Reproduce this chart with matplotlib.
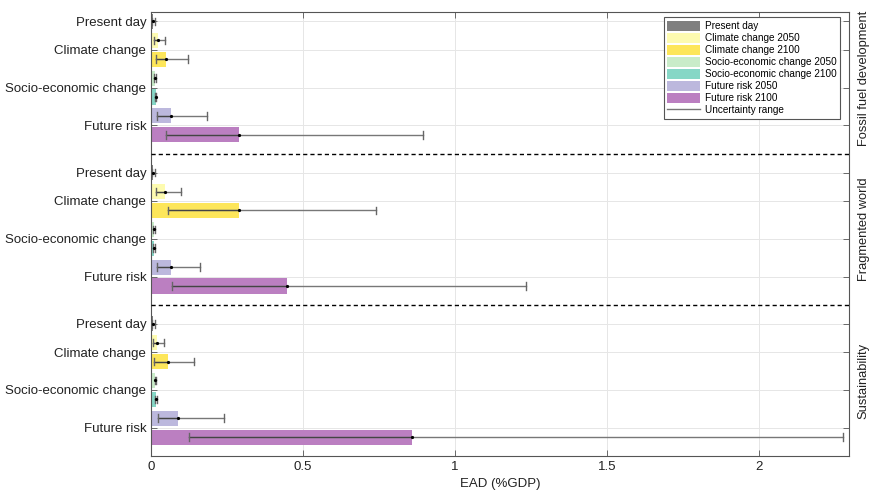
import matplotlib
matplotlib.use("Agg")
import matplotlib.pyplot as plt
from matplotlib.patches import Patch
from matplotlib.lines import Line2D

plt.rcParams['font.family'] = ['Liberation Sans', 'DejaVu Sans']

scenarios = ["Fossil fuel development", "Fragmented world", "Sustainability"]
series = ["Present day", "Climate change 2050", "Climate change 2100",
          "Socio-economic change 2050", "Socio-economic change 2100",
          "Future risk 2050", "Future risk 2100"]
colors = ["#7f7f7f", "#fdfbb0", "#fde65a", "#c9ecc9", "#86d7c6", "#bcb8dd", "#bb7fc1"]
categories = ["Present day", "Climate change", "Socio-economic change", "Future risk"]

# values per scenario, in series order
fossil_vals = [0.005, 0.022, 0.050, 0.012, 0.015, 0.065, 0.290]
fossil_low = [0.002, 0.010, 0.015, 0.011, 0.013, 0.020, 0.050]
fossil_high = [0.012, 0.046, 0.120, 0.015, 0.017, 0.185, 0.895]

fragmented_vals = [0.005, 0.045, 0.290, 0.010, 0.010, 0.065, 0.448]
fragmented_low = [0.002, 0.015, 0.055, 0.008, 0.008, 0.018, 0.068]
fragmented_high = [0.012, 0.097, 0.740, 0.012, 0.012, 0.160, 1.235]

sustain_vals = [0.005, 0.020, 0.055, 0.013, 0.016, 0.090, 0.860]
sustain_low = [0.002, 0.008, 0.010, 0.012, 0.014, 0.022, 0.125]
sustain_high = [0.012, 0.044, 0.140, 0.015, 0.018, 0.240, 2.275]

xticks = [0, 0.5, 1, 1.5, 2]
xticklabels = ["0", "0.5", "1", "1.5", "2"]

all_vals = [fossil_vals, fragmented_vals, sustain_vals]
all_low = [fossil_low, fragmented_low, sustain_low]
all_high = [fossil_high, fragmented_high, sustain_high]

fig = plt.figure(figsize=(8.71, 5.01), dpi=100)
ax = fig.add_axes([0.1734, 0.0898, 0.8013, 0.8862])

ytick_pos = []
ytick_lab = []
for s in range(3):
    base = s * 8
    for i in range(7):
        y = base + i + 1
        v = all_vals[s][i]
        ax.barh(y, v, height=0.8, color=colors[i], zorder=2)
        ax.plot([all_low[s][i], all_high[s][i]], [y, y], color="#777777", lw=1.0, zorder=3)
        ax.plot([all_low[s][i], v], [y, y], color="#444444", lw=0.9, zorder=3)
        for xc in (all_low[s][i], all_high[s][i]):
            ax.plot([xc, xc], [y - 0.2, y + 0.2], color="#666666", lw=1.0, zorder=3)
        ax.plot(v, y, 'o', color="black", ms=1.3, zorder=4)
    ytick_pos += [base + 1, base + 2.5, base + 4.5, base + 6.5]
    ytick_lab += categories
    if s < 2:
        ax.axhline(base + 8, color="black", ls=(0, (3, 2.2)), lw=1.0, zorder=5)

ax.set_ylim(24, 0.5)
ax.set_xlim(0, 2.296)
ax.set_yticks(ytick_pos)
ax.set_yticklabels(ytick_lab, fontsize=9.5, color="#222222")
ax.set_xticks(xticks)
ax.set_xticklabels(xticklabels, fontsize=9.5, color="#222222")
ax.set_xlabel("EAD (%GDP)", fontsize=9.5, color="#222222", labelpad=4)
ax.tick_params(direction="in", top=True, right=True, length=4, color="#555555", width=0.6)
ax.grid(True, color="#e6e6e6", lw=0.7, zorder=0)
ax.set_axisbelow(True)
for sp in ax.spines.values():
    sp.set_color("#555555")
    sp.set_linewidth(0.8)

# scenario labels on right
for s, name in enumerate(scenarios):
    yc = s * 8 + 4
    ax.annotate(name, xy=(1.0, yc), xycoords=("axes fraction", "data"),
                xytext=(10.5, 0), textcoords="offset points",
                rotation=90, va="center", ha="center", fontsize=9.3, color="#222222")

handles = [Patch(facecolor=c, edgecolor="none") for c in colors]
handles.append(Line2D([0], [0], color="#777777", lw=1.0))
labels = series + ["Uncertainty range"]
leg = ax.legend(handles, labels, loc="upper right", fontsize=7.2, frameon=True,
                fancybox=False, edgecolor="#555555", framealpha=1,
                handlelength=3.3, handleheight=1.1, labelspacing=0.18,
                borderpad=0.35, handletextpad=0.5, bbox_to_anchor=(0.995, 0.999))
leg.get_frame().set_linewidth(0.8)

fig.savefig("out.png", dpi=100)
